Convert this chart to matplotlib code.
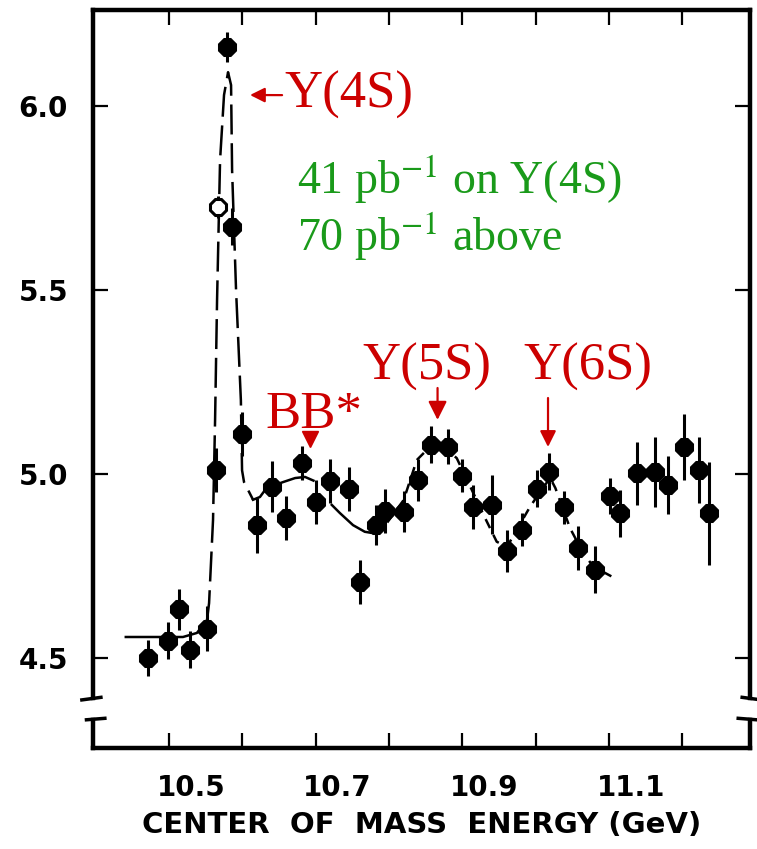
import matplotlib.pyplot as plt
from matplotlib.transforms import ScaledTranslation

# measured points, R vs centre of mass energy (GeV)
energy = [10.471, 10.498, 10.514, 10.529, 10.552, 10.564, 10.567, 10.579, 10.586,
          10.600, 10.620, 10.640, 10.660, 10.681, 10.700, 10.720, 10.745, 10.761,
          10.783, 10.795, 10.820, 10.840, 10.858, 10.880, 10.900, 10.915, 10.940,
          10.961, 10.982, 11.002, 11.019, 11.039, 11.058, 11.081, 11.102, 11.115,
          11.138, 11.163, 11.181, 11.203, 11.223, 11.236]
ratio = [4.50, 4.547, 4.632, 4.522, 4.58, 5.01, 5.726, 6.161, 5.672,
         5.108, 4.861, 4.966, 4.88, 5.03, 4.925, 4.98, 4.96, 4.707,
         4.861, 4.90, 4.898, 4.984, 5.08, 5.074, 4.995, 4.91, 4.916,
         4.79, 4.848, 4.96, 5.006, 4.91, 4.80, 4.74, 4.94, 4.893,
         5.002, 5.006, 4.97, 5.074, 5.01, 4.893]
ratio_err = [0.05, 0.05, 0.055, 0.05, 0.06, 0.06, 0.03, 0.04, 0.05,
             0.06, 0.075, 0.07, 0.06, 0.045, 0.06, 0.06, 0.06, 0.06,
             0.055, 0.06, 0.055, 0.057, 0.05, 0.047, 0.045, 0.06, 0.08,
             0.057, 0.045, 0.05, 0.05, 0.045, 0.06, 0.063, 0.05, 0.063,
             0.086, 0.095, 0.08, 0.09, 0.09, 0.14]
open_point = 6  # the one hollow marker

# fit curves
flat_e = [10.441, 10.519, 10.538, 10.5518]
flat_r = [4.557, 4.557, 4.568, 4.603]
peak_e = [10.5518, 10.5546, 10.560, 10.5628, 10.5655, 10.5696, 10.575, 10.5805,
          10.5846, 10.586, 10.5914, 10.598, 10.5996, 10.6023, 10.6146]
peak_r = [4.603, 4.649, 4.875, 5.147, 5.473, 5.853, 6.03, 6.092,
          6.057, 5.826, 5.50, 5.20, 5.01, 4.978, 4.93]
bbstar_e = [10.6146, 10.624, 10.633, 10.6555, 10.672, 10.6855, 10.697]
bbstar_r = [4.93, 4.9375, 4.962, 4.978, 4.989, 4.992, 4.982]
dip_e = [10.722, 10.733, 10.751, 10.767, 10.779]
dip_r = [4.916, 4.894, 4.861, 4.843, 4.839]
upper_e = [10.779, 10.795, 10.82, 10.838, 10.865, 10.8925, 10.913, 10.929, 10.947,
           10.961, 10.9925, 11.011, 11.02, 11.027, 11.047, 11.065, 11.079, 11.108]
upper_r = [4.839, 4.861, 4.929, 5.038, 5.092, 5.043, 4.957, 4.889, 4.816,
           4.802, 4.911, 4.965, 4.989, 4.962, 4.853, 4.785, 4.748, 4.717]

xtick_values = [10.5, 10.6, 10.7, 10.8, 10.9, 11.0, 11.1, 11.2]
xtick_labels = ['10.5', '', '10.7', '', '10.9', '', '11.1', '']
ytick_values = [4.5, 5.0, 5.5, 6.0]
ytick_labels = ['4.5', '5.0', '5.5', '6.0']

red = '#cc0000'
green = '#1a9a1a'
plt.rcParams['mathtext.fontset'] = 'stix'

fig = plt.figure(figsize=(7.57, 8.49), dpi=100)
ax = fig.add_axes([0.1229, 0.1190, 0.8679, 0.8692])

ax.plot(flat_e, flat_r, color='black', lw=1.8)
ax.plot(peak_e, peak_r, color='black', lw=1.8, linestyle=(0, (12, 3.5)))
ax.plot(bbstar_e, bbstar_r, color='black', lw=1.8)
ax.plot(dip_e, dip_r, color='black', lw=1.8)
ax.plot(upper_e, upper_r, color='black', lw=1.8, linestyle=(0, (4, 3)))

for i in range(len(energy)):
    face = 'white' if i == open_point else 'black'
    ax.errorbar(energy[i], ratio[i], yerr=ratio_err[i], fmt='8', color='black',
                mfc=face, mec='black', mew=2.2, ms=13, elinewidth=2.2, capsize=0)

ax.set_xlim(10.3963, 11.2926)
ax.set_ylim(4.2554, 6.261)

ax.set_xticks(xtick_values)
ax.set_xticklabels(xtick_labels, fontsize=20, fontweight='bold')
ax.set_yticks(ytick_values)
ax.set_yticklabels(ytick_labels, fontsize=20, fontweight='bold')
ax.tick_params(direction='in', length=11, width=1.6, top=True, right=True)
ax.tick_params(axis='x', pad=19)
ax.tick_params(axis='y', pad=18)
shift = ScaledTranslation(0.22, 0, fig.dpi_scale_trans)
for lab in ax.xaxis.get_majorticklabels():
    lab.set_transform(lab.get_transform() + shift)

ax.set_xlabel('CENTER  OF  MASS  ENERGY (GeV)', fontsize=21, fontweight='bold',
              labelpad=6)

# axis break on the vertical spines
for side in ['left', 'right']:
    ax.spines[side].set_bounds(4.391, 6.261)
for sp in ax.spines.values():
    sp.set_linewidth(3.2)
ytr = ax.get_yaxis_transform()
for x0, d in [(0.0, 1), (1.0, -1)]:
    ax.plot([x0, x0], [4.2554, 4.332], color='black', lw=3.2, transform=ytr, clip_on=False)
    ax.plot([x0 - 0.017 * d, x0 + 0.012 * d], [4.386, 4.393], color='black', lw=2.5,
            transform=ytr, clip_on=False)
    ax.plot([x0 - 0.01 * d, x0 + 0.018 * d], [4.332, 4.336], color='black', lw=2.5,
            transform=ytr, clip_on=False)

# annotations
serif = 'Liberation Serif'
ax.annotate('Y(4S)', xy=(10.6105, 6.03), xytext=(10.658, 5.995), color=red,
            fontsize=38, family=serif, ha='left', va='baseline',
            arrowprops=dict(arrowstyle='-|>', color=red, lw=1.6, mutation_scale=22,
                            shrinkA=0, shrinkB=0, relpos=(0, 0.5)))
ax.text(10.6746, 5.7636, '41 pb$^{-1}$ on Y(4S)', color=green, fontsize=33,
        family=serif, ha='left', va='baseline')
ax.text(10.6746, 5.6087, '70 pb$^{-1}$ above', color=green, fontsize=33,
        family=serif, ha='left', va='baseline')

ax.text(10.852, 5.255, 'Y(5S)', color=red, fontsize=38, family=serif,
        ha='center', va='baseline')
ax.annotate('', xy=(10.8663, 5.147), xytext=(10.8663, 5.2337),
            arrowprops=dict(arrowstyle='-|>', color=red, lw=1.6, mutation_scale=28,
                            shrinkA=0, shrinkB=0))
ax.text(11.0709, 5.255, 'Y(6S)', color=red, fontsize=38, family=serif,
        ha='center', va='baseline')
ax.annotate('', xy=(11.017, 5.0734), xytext=(11.017, 5.2065),
            arrowprops=dict(arrowstyle='-|>', color=red, lw=1.6, mutation_scale=24,
                            shrinkA=0, shrinkB=0))
ax.text(10.697, 5.125, 'BB*', color=red, fontsize=38, family=serif,
        ha='center', va='baseline')
ax.plot([10.6924], [5.094], marker='v', color=red, ms=11, clip_on=False)

fig.savefig('out.png', dpi=100)
